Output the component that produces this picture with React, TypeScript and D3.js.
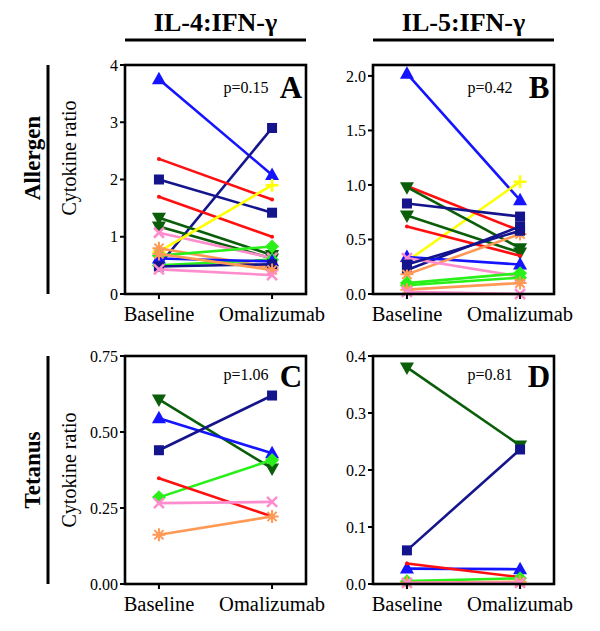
import React from "react";
import * as d3 from "d3";

// ---------- DATA ----------
const categories = ["Baseline", "Omalizumab"];
const columnTitles = ["IL-4:IFN-\u03b3", "IL-5:IFN-\u03b3"];
const rowTitles = ["Allergen", "Tetanus"];
const panelLetters = ["A", "B", "C", "D"];
const pValues = ["p=0.15", "p=0.42", "p=1.06", "p=0.81"];

// series kinds (subject groups drawn with a common symbol/colour)
const kindsA = ["blueTri", "navySq", "red", "navySq", "red", "dkGreen", "dkGreen", "pink", "yellow", "orange", "green", "green", "blueTri", "navySq", "orange", "pink"];
const baselineA = [3.75, 0.5, 2.36, 2.0, 1.7, 1.33, 1.18, 1.07, 0.74, 0.8, 0.67, 0.5, 0.62, 0.48, 0.7, 0.43];
const omalizumabA = [2.08, 2.9, 1.65, 1.42, 1.0, 0.68, 0.62, 0.63, 1.9, 0.46, 0.83, 0.6, 0.57, 0.52, 0.42, 0.33];

const kindsB = ["blueTri", "yellow", "red", "dkGreen", "navySq", "dkGreen", "red", "navySq", "blueTri", "orange", "pink", "green", "green", "orange", "pink", "navySq"];
const baselineB = [2.02, 0.3, 0.99, 0.98, 0.83, 0.72, 0.62, 0.22, 0.34, 0.18, 0.33, 0.1, 0.08, 0.04, 0.02, 0.27];
const omalizumabB = [0.86, 1.03, 0.58, 0.42, 0.71, 0.38, 0.35, 0.62, 0.27, 0.55, 0.16, 0.19, 0.15, 0.1, 0.0, 0.58];

const kindsC = ["dkGreen", "blueTri", "navySq", "green", "red", "pink", "orange"];
const baselineC = [0.607, 0.545, 0.44, 0.285, 0.348, 0.266, 0.162];
const omalizumabC = [0.38, 0.43, 0.62, 0.408, 0.222, 0.27, 0.222];

const kindsD = ["dkGreen", "navySq", "blueTri", "red", "green", "orange", "pink"];
const baselineD = [0.38, 0.059, 0.027, 0.036, 0.005, 0.002, 0.002];
const omalizumabD = [0.243, 0.236, 0.026, 0.012, 0.01, 0.004, 0.002];

const ticksA = [0, 1, 2, 3, 4];
const ticksB = [0, 0.5, 1.0, 1.5, 2.0];
const ticksC = [0, 0.25, 0.5, 0.75];
const ticksD = [0, 0.1, 0.2, 0.3, 0.4];
const maxA = 4, maxB = 2.1, maxC = 0.75, maxD = 0.4;

// ---------- STYLE ----------
const kindStyle: Record<string, { color: string; marker: string }> = {
  blueTri: { color: "#1414ff", marker: "triUp" },
  navySq: { color: "#14148c", marker: "square" },
  red: { color: "#ff1010", marker: "dot" },
  dkGreen: { color: "#0a5e0a", marker: "triDown" },
  green: { color: "#2af01a", marker: "diamond" },
  yellow: { color: "#ffff00", marker: "plus" },
  orange: { color: "#ff9955", marker: "asterisk" },
  pink: { color: "#ff8ccc", marker: "cross" },
};

const FONT = "Liberation Serif, Times New Roman, serif";

function Marker({ x, y, kind }: { x: number; y: number; kind: string }) {
  const { color, marker } = kindStyle[kind];
  switch (marker) {
    case "triUp":
      return <path d={`M${x},${y - 7.5}L${x + 7},${y + 5}L${x - 7},${y + 5}Z`} fill={color} />;
    case "triDown":
      return <path d={`M${x},${y + 7.5}L${x + 7},${y - 5}L${x - 7},${y - 5}Z`} fill={color} />;
    case "square":
      return <rect x={x - 5} y={y - 5} width={10} height={10} fill={color} />;
    case "diamond":
      return <path d={`M${x},${y - 7}L${x + 7},${y}L${x},${y + 7}L${x - 7},${y}Z`} fill={color} />;
    case "plus":
      return <path d={`M${x - 6.5},${y}H${x + 6.5}M${x},${y - 6.5}V${y + 6.5}`} stroke={color} strokeWidth={2.5} />;
    case "cross":
      return <path d={`M${x - 5},${y - 5}L${x + 5},${y + 5}M${x - 5},${y + 5}L${x + 5},${y - 5}`} stroke={color} strokeWidth={2.5} />;
    case "asterisk": {
      const r = 6.5;
      const lines = d3.range(4).map((i) => {
        const a = (i * Math.PI) / 4;
        return `M${x - r * Math.cos(a)},${y - r * Math.sin(a)}L${x + r * Math.cos(a)},${y + r * Math.sin(a)}`;
      });
      return <path d={lines.join("")} stroke={color} strokeWidth={2} />;
    }
    default:
      return <circle cx={x} cy={y} r={2} fill={color} />;
  }
}

interface PanelProps {
  left: number; right: number; top: number; bottom: number;
  max: number; ticks: number[]; fmt: (v: number) => string;
  kinds: string[]; base: number[]; omal: number[];
  letter: string; p: string; pX: number; pY: number; letterY: number;
}

function Panel(props: PanelProps) {
  const { left, right, top, bottom, max, ticks, fmt, kinds, base, omal, letter, p, pX, pY, letterY } = props;
  const x = d3.scalePoint<string>().domain(categories).range([left, right]).padding(0.3);
  const y = d3.scaleLinear().domain([0, max]).range([bottom, top]);
  const line = d3.line<[string, number]>().x((d) => x(d[0]) as number).y((d) => y(d[1]));
  return (
    <g>
      {kinds.map((k, i) => {
        const pts: [string, number][] = [[categories[0], base[i]], [categories[1], omal[i]]];
        const st = kindStyle[k];
        return (
          <g key={i}>
            <path d={line(pts) as string} stroke={st.color} strokeWidth={2.6} fill="none" />
            {pts.map((pt, j) => (
              <Marker key={j} x={x(pt[0]) as number} y={y(pt[1])} kind={k} />
            ))}
          </g>
        );
      })}
      <rect x={left} y={top} width={right - left} height={bottom - top} fill="none" stroke="#000" strokeWidth={2.6} />
      {ticks.map((t) => (
        <g key={t}>
          <line x1={left - 5} x2={left} y1={y(t)} y2={y(t)} stroke="#000" strokeWidth={2} />
          <text x={left - 7} y={y(t)} dy="0.35em" textAnchor="end" fontSize={16} fontFamily={FONT}>{fmt(t)}</text>
        </g>
      ))}
      {categories.map((c) => (
        <g key={c}>
          <line x1={x(c)} x2={x(c)} y1={bottom} y2={bottom + 5} stroke="#000" strokeWidth={2} />
          <text x={x(c)} y={bottom + 27} textAnchor="middle" fontSize={20.5} fontFamily={FONT}>{c}</text>
        </g>
      ))}
      <text x={pX} y={pY} textAnchor="middle" fontSize={16} fontFamily={FONT}>{p}</text>
      <text x={right - 15} y={letterY} textAnchor="middle" fontSize={31} fontWeight="bold" fontFamily={FONT}>{letter}</text>
    </g>
  );
}

export default function App() {
  const cols = [{ left: 125, right: 306 }, { left: 373, right: 554 }];
  const rows = [{ top: 65, bottom: 294 }, { top: 356, bottom: 584 }];
  const labelCenters = [158, 470];
  const f0 = d3.format("d"), f1 = d3.format(".1f"), f2 = d3.format(".2f");
  return (
    <svg width={600} height={631} style={{ display: "block", position: "absolute", left: 0, top: 0 }}>
      <rect width={600} height={631} fill="#fff" />
      {columnTitles.map((t, i) => (
        <g key={t}>
          <text x={(cols[i].left + cols[i].right) / 2} y={31} textAnchor="middle" fontSize={26} fontWeight="bold" fontFamily={FONT}>{t}</text>
          <line x1={cols[i].left} x2={cols[i].right} y1={40} y2={40} stroke="#000" strokeWidth={3} />
        </g>
      ))}
      {rowTitles.map((t, i) => {
        const cy = labelCenters[i];
        return (
          <g key={t}>
            <text transform={`translate(40,${cy}) rotate(-90)`} textAnchor="middle" fontSize={23} fontWeight="bold" fontFamily={FONT}>{t}</text>
            <line x1={48} x2={48} y1={rows[i].top} y2={rows[i].bottom} stroke="#000" strokeWidth={3} />
            <text transform={`translate(76,${cy}) rotate(-90)`} textAnchor="middle" fontSize={20} fontFamily={FONT}>Cytokine ratio</text>
          </g>
        );
      })}
      <Panel {...cols[0]} {...rows[0]} max={maxA} ticks={ticksA} fmt={f0} kinds={kindsA} base={baselineA} omal={omalizumabA} letter={panelLetters[0]} p={pValues[0]} pX={246} pY={93} letterY={98} />
      <Panel {...cols[1]} {...rows[0]} max={maxB} ticks={ticksB} fmt={f1} kinds={kindsB} base={baselineB} omal={omalizumabB} letter={panelLetters[1]} p={pValues[1]} pX={490} pY={93} letterY={98} />
      <Panel {...cols[0]} {...rows[1]} max={maxC} ticks={ticksC} fmt={f2} kinds={kindsC} base={baselineC} omal={omalizumabC} letter={panelLetters[2]} p={pValues[2]} pX={246} pY={380} letterY={387} />
      <Panel {...cols[1]} {...rows[1]} max={maxD} ticks={ticksD} fmt={f1} kinds={kindsD} base={baselineD} omal={omalizumabD} letter={panelLetters[3]} p={pValues[3]} pX={490} pY={380} letterY={387} />
    </svg>
  );
}
